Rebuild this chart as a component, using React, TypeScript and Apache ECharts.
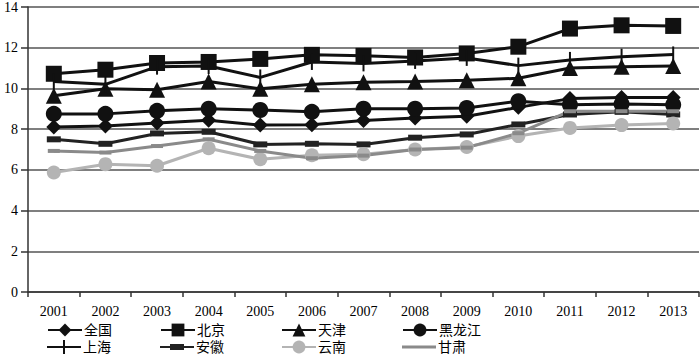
import React, { useEffect, useRef } from "react";
import * as echarts from "echarts";

const years = ["2001","2002","2003","2004","2005","2006","2007","2008","2009","2010","2011","2012","2013"];
const quanguo = [8.1, 8.15, 8.3, 8.44, 8.2, 8.22, 8.42, 8.55, 8.63, 9.07, 9.5, 9.55, 9.55];
const beijing = [10.72, 10.92, 11.25, 11.3, 11.45, 11.65, 11.6, 11.52, 11.72, 12.05, 12.94, 13.1, 13.07];
const tianjin = [9.64, 9.98, 9.93, 10.34, 9.98, 10.2, 10.3, 10.34, 10.4, 10.5, 11.0, 11.07, 11.1];
const heilongjiang = [8.75, 8.75, 8.9, 9.0, 8.94, 8.85, 9.0, 9.0, 9.04, 9.37, 9.2, 9.24, 9.2];
const shanghai = [10.34, 10.2, 11.07, 11.1, 10.54, 11.3, 11.23, 11.35, 11.5, 11.12, 11.4, 11.56, 11.67];
const anhui = [7.5, 7.28, 7.79, 7.87, 7.25, 7.28, 7.25, 7.58, 7.74, 8.23, 8.72, 8.85, 8.72];
const yunnan = [5.87, 6.28, 6.2, 7.06, 6.52, 6.72, 6.77, 7.0, 7.12, 7.66, 8.06, 8.2, 8.28];
const gansu = [6.93, 6.85, 7.17, 7.5, 6.93, 6.57, 6.7, 7.0, 7.09, 7.8, 8.88, 8.88, 8.88];
const yTicks = { min: 0, max: 14, interval: 2 };

const seriesNames = ["全国", "北京", "天津", "黑龙江", "上海", "安徽", "云南", "甘肃"];

const FONT = "'Liberation Serif', 'DejaVu Serif', 'Noto Sans CJK SC', serif";

export default function App() {
  const ref = useRef<HTMLDivElement>(null);
  useEffect(() => {
    if (!ref.current) return;
    const chart = echarts.init(ref.current, null, { renderer: "svg" });
    const black = "#111";
    const mk = (name: string, data: number[], color: string, symbol: string, size: any, lineColor?: string, width = 3) => ({
      name,
      type: "line",
      data,
      symbol,
      symbolSize: size,
      lineStyle: { color: lineColor || color, width },
      itemStyle: { color, borderWidth: 0 },
      z: 2,
    });
    const series = [
      mk("全国", quanguo, black, "diamond", 15),
      mk("北京", beijing, black, "rect", 16),
      mk("天津", tianjin, black, "triangle", 16),
      mk("黑龙江", heilongjiang, black, "circle", 16),
      mk("上海", shanghai, black, "rect", [2, 16]),
      mk("安徽", anhui, "#222", "rect", [14, 6]),
      mk("云南", yunnan, "#b4b4b4", "circle", 14),
      mk("甘肃", gansu, "#8a8a8a", "rect", [12, 4]),
    ];
    const legendLeft = [47, 160, 281, 402];
    const rowCenter = [331, 348];
    const special: Record<string, { icon: string; h: number }> = {
      "上海": { icon: "path://M0,6L34,6L34,8L0,8Z M16,0L18,0L18,14L16,14Z", h: 14 },
      "安徽": { icon: "path://M0,2L34,2L34,4L0,4Z M10,0L24,0L24,6L10,6Z", h: 6 },
      "甘肃": { icon: "rect", h: 3 },
    };
    const legends = seriesNames.map((n, i) => {
      const sp = special[n];
      const h = sp ? sp.h : 16;
      return {
        data: sp ? [{ name: n, icon: sp.icon }] : [n],
        left: legendLeft[i % 4],
        top: rowCenter[Math.floor(i / 4)] - 8,
        itemWidth: 34,
        itemHeight: h,
        itemGap: 0,
        textStyle: { fontSize: 14, color: "#000", fontFamily: FONT, padding: [0, 0, 0, -3] },
        padding: 0,
        selectedMode: false,
      };
    });
    chart.setOption({
      animation: false,
      backgroundColor: "#fff",
      grid: { left: 28, right: 1, top: 5, bottom: 70, containLabel: false },
      legend: legends,
      xAxis: {
        type: "category",
        data: years,
        boundaryGap: true,
        axisLine: { lineStyle: { color: "#333", width: 1.5 } },
        axisTick: { show: true, interval: 0, length: 5, lineStyle: { color: "#333", width: 1.5 } },
        axisLabel: { interval: 0, fontSize: 14, color: "#000", fontFamily: FONT, margin: 12 },
      },
      yAxis: {
        type: "value",
        min: yTicks.min,
        max: yTicks.max,
        interval: yTicks.interval,
        axisLine: { show: true, lineStyle: { color: "#333", width: 1.5 } },
        axisTick: { show: true, length: 7, lineStyle: { color: "#333", width: 1.5 } },
        axisLabel: { fontSize: 14, color: "#000", fontFamily: FONT, margin: 10 },
        splitLine: { lineStyle: { color: "#555", width: 1.5 } },
      },
      series,
    });
    return () => chart.dispose();
  }, []);
  return <div ref={ref} style={{ width: 700, height: 362, position: "absolute", left: 0, top: 0 }} />;
}
